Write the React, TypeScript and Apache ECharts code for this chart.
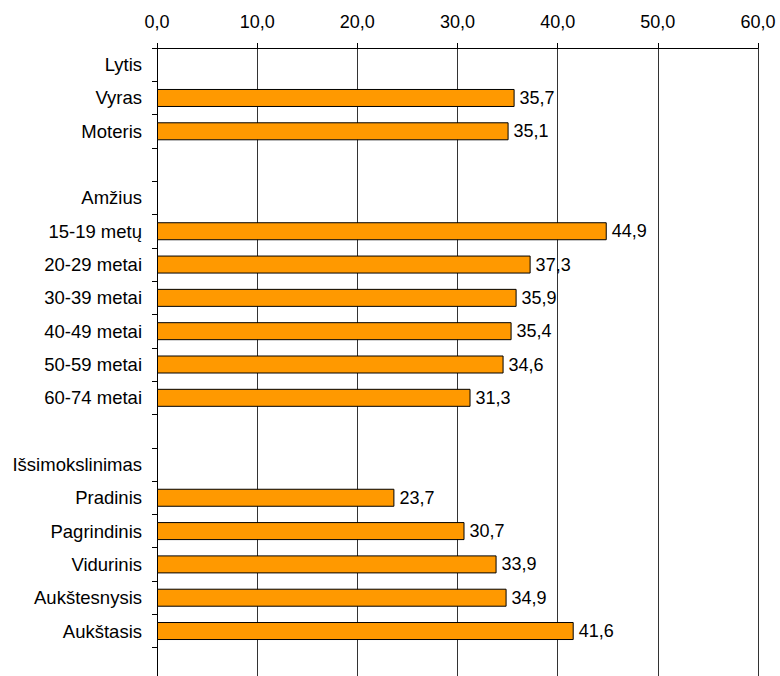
import React, { useEffect, useRef } from "react";
import * as echarts from "echarts";

const categories: string[] = [
  "Lytis",
  "Vyras",
  "Moteris",
  "",
  "Amžius",
  "15-19 metų",
  "20-29 metai",
  "30-39 metai",
  "40-49 metai",
  "50-59 metai",
  "60-74 metai",
  "",
  "Išsimokslinimas",
  "Pradinis",
  "Pagrindinis",
  "Vidurinis",
  "Aukštesnysis",
  "Aukštasis",
  "",
];

const values: (number | null)[] = [
  null,
  35.7,
  35.1,
  null,
  null,
  44.9,
  37.3,
  35.9,
  35.4,
  34.6,
  31.3,
  null,
  null,
  23.7,
  30.7,
  33.9,
  34.9,
  41.6,
  null,
];

const xMin = 0;
const xMax = 60;
const xInterval = 10;

const fmt = (v: number) => v.toFixed(1).replace(".", ",");

const FONT = "Liberation Sans, Arial, sans-serif";

export default function App() {
  const ref = useRef<HTMLDivElement>(null);
  useEffect(() => {
    if (!ref.current) return;
    const chart = echarts.init(ref.current, undefined, { renderer: "svg" });
    chart.setOption({
      animation: false,
      backgroundColor: "#ffffff",
      grid: { left: 157, right: 22, top: 48, bottom: 19, containLabel: false },
      xAxis: {
        type: "value",
        position: "top",
        min: xMin,
        max: xMax,
        interval: xInterval,
        axisLine: { show: true, lineStyle: { color: "#000", width: 1 } },
        axisTick: { show: true, length: 5, inside: false, lineStyle: { color: "#000" } },
        axisLabel: {
          formatter: (v: number) => fmt(v),
          color: "#000",
          fontFamily: FONT,
          fontSize: 18,
          margin: 17,
        },
        splitLine: { show: true, lineStyle: { color: "#333", width: 1 } },
      },
      yAxis: {
        type: "category",
        inverse: true,
        data: categories,
        axisLine: { show: true, lineStyle: { color: "#000", width: 1 } },
        axisTick: { show: true, length: 5, inside: false, alignWithLabel: false, lineStyle: { color: "#000" } },
        axisLabel: {
          color: "#000",
          fontFamily: FONT,
          fontSize: 18.5,
          margin: 15,
          interval: 0,
        },
        splitLine: { show: false },
      },
      series: [
        {
          type: "bar",
          data: values,
          barWidth: 18,
          itemStyle: { color: "#FF9900", borderColor: "#000", borderWidth: 1 },
          label: {
            show: true,
            position: "right",
            distance: 5,
            color: "#000",
            fontFamily: FONT,
            fontSize: 18,
            formatter: (p: any) => (p.value == null ? "" : fmt(p.value)),
          },
        },
      ],
    });
    return () => chart.dispose();
  }, []);
  return (
    <div style={{ position: "absolute", left: 0, top: 0, width: 780, height: 676, overflow: "hidden", background: "#fff" }}>
      <div ref={ref} style={{ width: 780, height: 700 }} />
    </div>
  );
}
